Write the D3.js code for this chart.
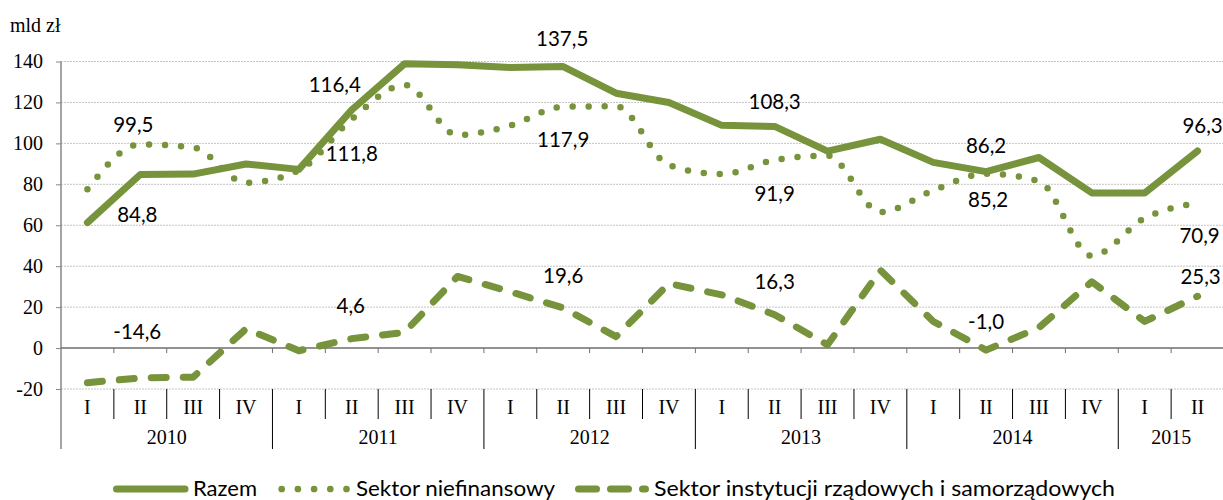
<!DOCTYPE html>
<html>
<head>
<meta charset="utf-8">
<script src="https://cdnjs.cloudflare.com/ajax/libs/d3/7.8.5/d3.min.js"></script>
<style>
  body { margin: 0; background: #fff; }
  svg { display: block; }
</style>
</head>
<body>
<div id="chart"></div>
<script>
// kwartalne dane, mld zł
const years = ["2010", "2011", "2012", "2013", "2014", "2015"];
const quartersInYear = [4, 4, 4, 4, 4, 2];
const quarterNames = ["I", "II", "III", "IV"];

const razem = [61.3, 84.8, 85.0, 89.9, 87.3, 116.4, 138.9, 138.4, 137.1, 137.5, 124.5,
  120.0, 108.8, 108.3, 96.2, 102.0, 90.7, 86.2, 93.1, 75.8, 75.8, 96.3];
const niefinansowy = [77.6, 99.5, 98.0, 80.8, 86.8, 111.8, 128.5, 104.1, 108.7, 117.9, 118.1,
  89.4, 85.0, 91.9, 94.0, 66.4, 77.0, 85.2, 81.5, 45.0, 63.5, 70.9];
const rzadowy = [-16.9, -14.6, -14.2, 9.4, -1.3, 4.6, 7.7, 35.0, 27.5, 19.6, 5.6,
  31.5, 26.0, 16.3, 1.6, 38.0, 13.0, -1.0, 10.0, 32.4, 13.0, 25.3];

const seriesNames = ["Razem", "Sektor niefinansowy", "Sektor instytucji rządowych i samorządowych"];
const yTicks = [-20, 0, 20, 40, 60, 80, 100, 120, 140];
const labeled = [1, 5, 9, 13, 17, 21];

// label offsets from the point (dx, dy), one list per series
const labelOffsets = [
  [[-3, 40], [-17, -25], [-1, -28], [0, -25], [0, -25.6], [5, -25.5]],
  [[-7, -19.5], [0, 34], [0, 33], [0, 34], [2, 25.6], [2, 33]],
  [[-3, -46], [-1, -32.6], [0, -32], [0, -33], [0, -28], [3, -20]]
];

const green = "#77933c";
const svg_width = 1223, svg_height = 500;
const plotLeft = 61, plotRight = 1224, plotTop = 61.5, plotBottom = 389;

// build quarter categories
let cats = [];
years.forEach(function (y, yi) {
  for (let q = 0; q < quartersInYear[yi]; q++) cats.push({year: y, q: quarterNames[q], yi: yi});
});

let svg = d3.select("#chart").append("svg")
  .attr("width", svg_width)
  .attr("height", svg_height);

let x = d3.scaleBand().domain(d3.range(cats.length)).range([plotLeft, plotRight]).padding(0);
let y = d3.scaleLinear().domain([-20, 140]).range([plotBottom, plotTop]);
let bw = x.bandwidth();
let cx = function (i) { return x(i) + bw / 2; };

// gridlines
svg.append("g").selectAll("line")
  .data(yTicks.filter(function (d) { return d !== 0; }))
  .enter().append("line")
  .attr("x1", plotLeft).attr("x2", plotRight)
  .attr("y1", function (d) { return y(d); }).attr("y2", function (d) { return y(d); })
  .attr("stroke", "#c4c4c4").attr("stroke-width", 1).attr("stroke-dasharray", "2,1");

// y axis
let yAxis = svg.append("g")
  .attr("transform", "translate(" + plotLeft + ",0)")
  .call(d3.axisLeft(y).tickValues(yTicks).tickSize(5).tickPadding(13)
    .tickFormat(function (d) { return String(d); }));
yAxis.select(".domain").remove();
yAxis.selectAll(".tick line").attr("stroke", "#868686");
yAxis.selectAll(".tick text")
  .attr("font-family", "'Liberation Serif', serif")
  .attr("font-size", 20)
  .attr("fill", "#000");

svg.append("line")
  .attr("x1", plotLeft).attr("x2", plotLeft)
  .attr("y1", plotTop).attr("y2", 449)
  .attr("stroke", "#868686").attr("stroke-width", 1.5);

svg.append("text")
  .attr("x", 10).attr("y", 32)
  .attr("font-family", "'Liberation Serif', serif")
  .attr("font-size", 20)
  .text("mld zł");

// zero line with ticks
svg.append("line")
  .attr("x1", plotLeft).attr("x2", plotRight)
  .attr("y1", y(0)).attr("y2", y(0))
  .attr("stroke", "#6e6e6e").attr("stroke-width", 1.5);

let bounds = d3.range(cats.length + 1);
svg.append("g").selectAll("line")
  .data(bounds.slice(1))
  .enter().append("line")
  .attr("x1", function (k) { return plotLeft + k * bw; })
  .attr("x2", function (k) { return plotLeft + k * bw; })
  .attr("y1", y(0)).attr("y2", y(0) + 5)
  .attr("stroke", "#6e6e6e").attr("stroke-width", 1);

// category separators (quarters short, years long)
let yearStarts = [0];
quartersInYear.forEach(function (n, i) { yearStarts.push(yearStarts[i] + n); });

svg.append("g").selectAll("line")
  .data(bounds.slice(1, -1))
  .enter().append("line")
  .attr("x1", function (k) { return plotLeft + k * bw; })
  .attr("x2", function (k) { return plotLeft + k * bw; })
  .attr("y1", plotBottom)
  .attr("y2", function (k) { return yearStarts.indexOf(k) >= 0 ? 449 : 419; })
  .attr("stroke", "#000").attr("stroke-width", 1);

svg.append("g").selectAll("text")
  .data(cats)
  .enter().append("text")
  .attr("x", function (d, i) { return cx(i); })
  .attr("y", 414)
  .attr("text-anchor", "middle")
  .attr("font-family", "'Liberation Serif', serif")
  .attr("font-size", 20)
  .text(function (d) { return d.q; });

svg.append("g").selectAll("text")
  .data(years)
  .enter().append("text")
  .attr("x", function (d, i) { return plotLeft + (yearStarts[i] + quartersInYear[i] / 2) * bw; })
  .attr("y", 444)
  .attr("text-anchor", "middle")
  .attr("font-family", "'Liberation Serif', serif")
  .attr("font-size", 20)
  .text(function (d) { return d; });

// series lines
let series = [
  {values: razem, curve: d3.curveLinear, dash: null, width: 7},
  {values: niefinansowy, curve: d3.curveMonotoneX, dash: "0 16", width: 6.5},
  {values: rzadowy, curve: d3.curveLinear, dash: "15 17", width: 7}
];

series.forEach(function (s) {
  let line = d3.line()
    .x(function (d, i) { return cx(i); })
    .y(function (d) { return y(d); })
    .curve(s.curve);
  svg.append("path")
    .datum(s.values)
    .attr("d", line)
    .attr("fill", "none")
    .attr("stroke", green)
    .attr("stroke-width", s.width)
    .attr("stroke-linecap", "round")
    .attr("stroke-linejoin", "round")
    .attr("stroke-dasharray", s.dash);
});

// data labels
series.forEach(function (s, si) {
  svg.append("g").selectAll("text")
    .data(labeled)
    .enter().append("text")
    .attr("x", function (i, k) { return cx(i) + labelOffsets[si][k][0]; })
    .attr("y", function (i, k) { return y(s.values[i]) + labelOffsets[si][k][1]; })
    .attr("dy", "0.36em")
    .attr("text-anchor", "middle")
    .attr("font-family", "Lato, sans-serif")
    .attr("font-size", 20.5)
    .attr("fill", "#000")
    .text(function (i) { return s.values[i].toFixed(1).replace(".", ","); });
});

// legend
let legendItems = [
  {x1: 116.5, x2: 185, dash: null, w: 7, tx: 193, tl: 64},
  {x1: 281.7, x2: 347, dash: "0 16.2", w: 6.7, tx: 356, tl: 199},
  {x1: 578.5, x2: 645.5, dash: "18 14", w: 7, tx: 654, tl: 461}
];
legendItems.forEach(function (it, i) {
  svg.append("line")
    .attr("x1", it.x1).attr("x2", it.x2)
    .attr("y1", 489).attr("y2", 489)
    .attr("stroke", green)
    .attr("stroke-width", it.w)
    .attr("stroke-linecap", "round")
    .attr("stroke-dasharray", it.dash);
  svg.append("text")
    .attr("x", it.tx).attr("y", 496)
    .attr("font-family", "Lato, sans-serif")
    .attr("font-size", 21)
    .attr("textLength", it.tl)
    .attr("lengthAdjust", "spacingAndGlyphs")
    .text(seriesNames[i]);
});
</script>
</body>
</html>
